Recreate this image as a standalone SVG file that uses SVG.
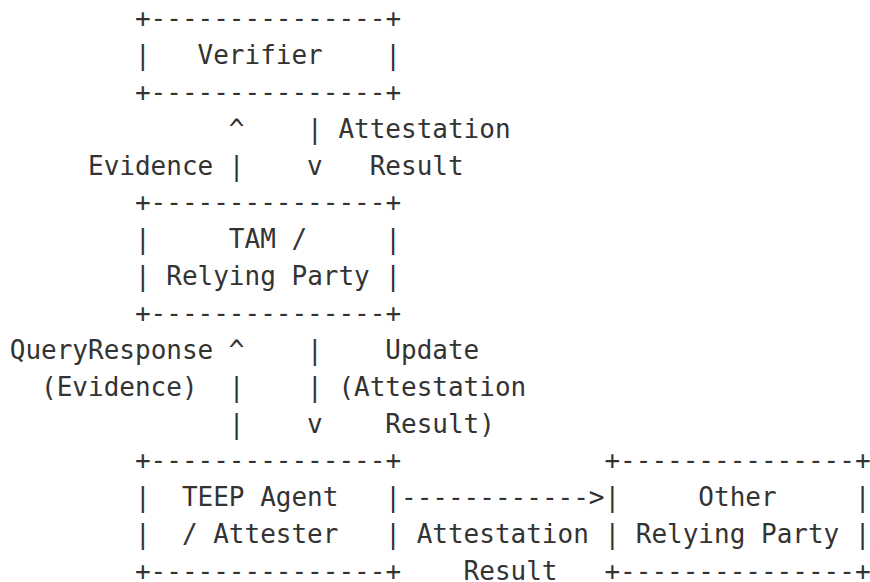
<svg xmlns="http://www.w3.org/2000/svg" width="870" height="582" viewBox="0 0 870 582">
<style>
text{font-family:"DejaVu Sans Mono","Liberation Mono",monospace;font-size:26px;fill:#333;white-space:pre}
</style>
<rect width="870" height="582" fill="#fff"/>
<g id="verifier">
<text x="134.95" y="27">+---------------+</text>
<text x="134.95" y="64">|</text>
<text x="197.55" y="64">Verifier</text>
<text x="385.35" y="64">|</text>
<text x="134.95" y="101">+---------------+</text>
</g>
<g id="tam">
<text x="134.95" y="211">+---------------+</text>
<text x="134.95" y="248">|</text>
<text x="228.85" y="248">TAM /</text>
<text x="385.35" y="248">|</text>
<text x="134.95" y="285">|</text>
<text x="166.25" y="285">Relying Party</text>
<text x="385.35" y="285">|</text>
<text x="134.95" y="322">+---------------+</text>
</g>
<g id="teep-agent">
<text x="134.95" y="469">+---------------+</text>
<text x="134.95" y="506">|</text>
<text x="181.9" y="506">TEEP Agent</text>
<text x="385.35" y="506">|</text>
<text x="134.95" y="543">|</text>
<text x="181.9" y="543">/ Attester</text>
<text x="385.35" y="543">|</text>
<text x="134.95" y="580">+---------------+</text>
</g>
<g id="other-rp">
<text x="604.45" y="469">+---------------+</text>
<text x="604.45" y="506">|</text>
<text x="698.35" y="506">Other</text>
<text x="854.85" y="506">|</text>
<text x="604.45" y="543">|</text>
<text x="635.75" y="543">Relying Party</text>
<text x="854.85" y="543">|</text>
<text x="604.45" y="580">+---------------+</text>
</g>
<g id="connectors">
<text x="228.85" y="138">^</text>
<text x="307.1" y="138">|</text>
<text x="338.4" y="138">Attestation</text>
<text x="88" y="175">Evidence</text>
<text x="228.85" y="175">|</text>
<text x="307.1" y="175">v</text>
<text x="369.7" y="175">Result</text>
<text x="9.75" y="359">QueryResponse</text>
<text x="228.85" y="359">^</text>
<text x="307.1" y="359">|</text>
<text x="385.35" y="359">Update</text>
<text x="41.05" y="396">(Evidence)</text>
<text x="228.85" y="396">|</text>
<text x="307.1" y="396">|</text>
<text x="338.4" y="396">(Attestation</text>
<text x="228.85" y="433">|</text>
<text x="307.1" y="433">v</text>
<text x="385.35" y="433">Result)</text>
<text x="401" y="506">------------&gt;</text>
<text x="416.65" y="543">Attestation</text>
<text x="463.6" y="580">Result</text>
</g>
</svg>
